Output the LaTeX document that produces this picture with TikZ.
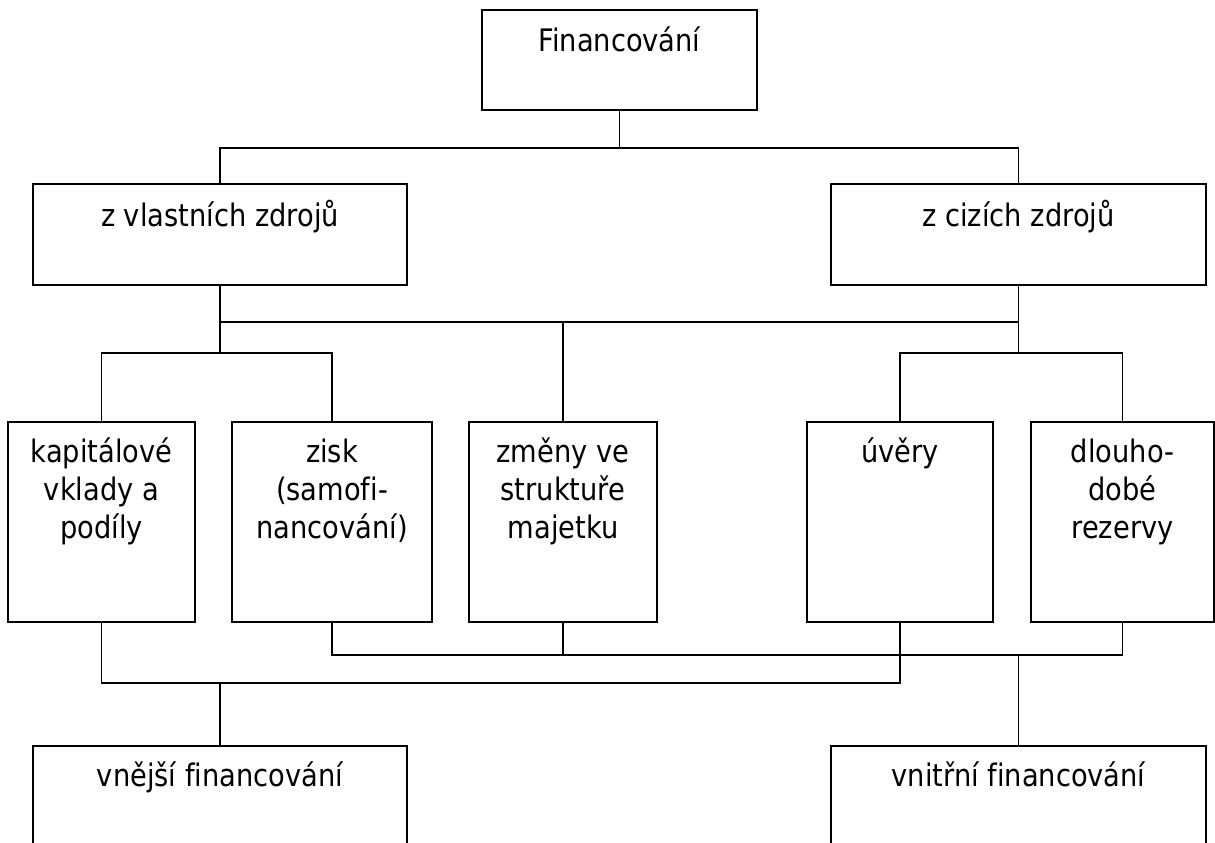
\documentclass[tikz,border=0pt]{standalone}
\usepackage{fontspec}
\setmainfont{DejaVu Sans}[FakeStretch=0.88,Ligatures=CommonOff]
\begin{document}
\begin{tikzpicture}[x=1pt,y=-1pt,
  box/.style={draw,line width=1.4pt,inner sep=0pt,rectangle},
  txt/.style={font=\fontsize{31}{38.2}\selectfont,align=center,inner sep=0pt,anchor=base},
  conn/.style={line width=1.4pt}]
\clip (0,0) rectangle (1215,843);
\fill[white] (0,0) rectangle (1215,843);
% boxes
\node[box,minimum width=275pt,minimum height=100pt] (fin) at (619.5,60) {};
\node[box,minimum width=374pt,minimum height=101pt] (vl) at (220,234.5) {};
\node[box,minimum width=375pt,minimum height=101pt] (cz) at (1018.5,234.5) {};
\node[box,minimum width=187pt,minimum height=200pt] (b1) at (101.5,522) {};
\node[box,minimum width=200pt,minimum height=200pt] (b2) at (332,522) {};
\node[box,minimum width=188pt,minimum height=200pt] (b3) at (563,522) {};
\node[box,minimum width=186pt,minimum height=200pt] (b4) at (900,522) {};
\node[box,minimum width=183pt,minimum height=200pt] (b5) at (1122.5,522) {};
\node[box,minimum width=374pt,minimum height=120pt] (vne) at (220,806) {};
\node[box,minimum width=375pt,minimum height=120pt] (vni) at (1018.5,806) {};
% texts (base anchor = baseline of the last line)
\node[txt] (fin-t) at (619.5,52) {Financování};
\node[txt] (vl-t) at (220,226.5) {z vlastních zdrojů};
\node[txt] (cz-t) at (1018.5,226.5) {z cizích zdrojů};
\node[txt] (b1-t) at (101.5,538.5) {kapitálové\\vklady a\\podíly};
\node[txt] (b2-t) at (332,538.5) {zisk\\(samofi-\\nancování)};
\node[txt] (b3-t) at (563,538.5) {změny ve\\struktuře\\majetku};
\node[txt] (b4-t) at (900,462) {úvěry};
\node[txt] (b5-t) at (1122.5,538.5) {dlouho-\\dobé\\rezervy};
\node[txt] (vne-t) at (220,786) {vnější financování};
\node[txt] (vni-t) at (1018.5,786) {vnitřní financování};
% junctions
\coordinate (j1) at (619.5,148);
\coordinate (j2) at (563,322);
\coordinate (j3) at (220,353);
\coordinate (j4) at (1018.5,353);
\coordinate (j5) at (220,683);
\coordinate (j6) at (1018.5,655);
% connectors
\draw[conn] (fin.south) -- (j1);
\draw[conn] (vl.north) |- (j1) -| (cz.north);
\draw[conn] (vl.south) |- (j2) -| (cz.south);
\draw[conn] (j2) -- (b3.north);
\draw[conn] (b1.north) |- (j3) -| (b2.north);
\draw[conn] (j3) -- (vl.south);
\draw[conn] (b4.north) |- (j4) -| (b5.north);
\draw[conn] (j4) -- (cz.south);
\draw[conn] (b1.south) |- (j5) -| (b4.south);
\draw[conn] (j5) -- (vne.north);
\draw[conn] (b2.south) |- (j6) -| (b5.south);
\draw[conn] (b3.south) -- (b3.south |- j6);
\draw[conn] (j6) -- (vni.north);
\end{tikzpicture}
\end{document}
